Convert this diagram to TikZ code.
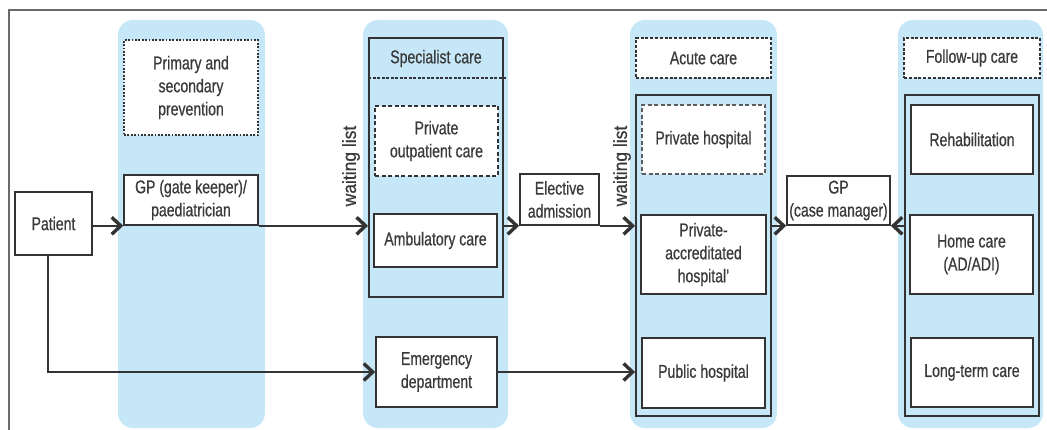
\documentclass[tikz,border=0pt]{standalone}
\usepackage{fontspec}
\setmainfont[FakeStretch=0.76,FakeBold=0.6]{Liberation Sans}
\newfontfamily\wfont[FakeStretch=0.92,FakeBold=0.8]{Liberation Sans}
\usetikzlibrary{arrows.meta}
\definecolor{colblue}{HTML}{C6E7F7}
\definecolor{boxc}{HTML}{333333}
\definecolor{txt}{HTML}{3A3A3A}
\definecolor{framec}{HTML}{6A6A6A}
\begin{document}
\begin{tikzpicture}[x=1pt,y=-1pt,
  lbl/.style={align=center, text=txt, inner sep=1pt, font=\fontsize{18.5}{23}\selectfont},
  box/.style={lbl, draw=boxc, line width=1.6pt, fill=white},
  dotbox/.style={box, dash pattern=on 1.8pt off 1.6pt},
  dashbox/.style={box, dash pattern=on 4pt off 2.5pt},
  outerbox/.style={draw=boxc, line width=1.9pt, inner sep=0pt},
  col/.style={fill=colblue, rounded corners=15pt},
  conn/.style={draw=boxc, line width=1.8pt},
  arr/.style={conn, -{Straight Barb[length=9pt,width=17pt,line width=3.4pt]}},
  wl/.style={text=txt, inner sep=0pt, rotate=90, font=\wfont\fontsize{19}{22}\selectfont}
]
\useasboundingbox (0,0) rectangle (1047,430);
% frame
\draw[framec, line width=2.2pt] (9,430) -- (9,10) -- (1047,10);
% blue columns
\fill[col] (118,20) rectangle (265,428);
\fill[col] (363,20) rectangle (508,428);
\fill[col] (630,20) rectangle (777,428);
\fill[col] (898,20) rectangle (1043,428);

% column 1
\node[dotbox, minimum width=134, minimum height=95] (prev) at (191,87.5) {Primary and\\secondary\\prevention};
\node[box, minimum width=134, minimum height=50] (gp1) at (191,200) {GP (gate keeper)/\\paediatrician};
\node[box, minimum width=77, minimum height=63] (patient) at (53.5,223.5) {Patient};

% column 2
\node[outerbox, minimum width=134, minimum height=259] (spec) at (436,167.5) {};
\node[lbl] (spechead) at (436,58.5) {Specialist care};
\coordinate (sl) at ([yshift=-41pt]spec.north west);
\coordinate (sr) at ([yshift=-41pt,xshift=2pt]spec.north east);
\draw[draw=boxc, line width=1.4pt, dash pattern=on 3pt off 1.5pt] (sl) -- (sr);
\node[dashbox, minimum width=123, minimum height=70] (privout) at (436.5,141) {Private\\outpatient care};
\node[box, minimum width=123, minimum height=53] (amb) at (435.5,240.5) {Ambulatory care};
\node[box, minimum width=121, minimum height=70] (emerg) at (436.5,372) {Emergency\\department};

\node[box, minimum width=79, minimum height=51] (elect) at (559.5,199.5) {Elective\\admission};

% column 3
\node[dashbox, dash pattern=on 3pt off 1.8pt, minimum width=135, minimum height=40] (acutehead) at (703.5,58) {Acute care};
\node[outerbox, minimum width=135, minimum height=321] (acute) at (703.5,255.5) {};
\node[dashbox, draw=boxc!80, minimum width=123, minimum height=69] (privhosp) at (703.5,139.5) {Private hospital};
\node[box, minimum width=125, minimum height=79] (accred) at (703.5,254.5) {Private-\\accreditated\\hospital'};
\node[box, minimum width=123, minimum height=70] (public) at (703.5,373) {Public hospital};

\node[box, minimum width=103, minimum height=49] (gp2) at (838.5,200.5) {GP\\(case manager)};

% column 4
\node[dashbox, dash pattern=on 3pt off 1.8pt, minimum width=136, minimum height=40] (followhead) at (972,58) {Follow-up care};
\node[outerbox, minimum width=134, minimum height=321] (follow) at (972,255.5) {};
\node[box, minimum width=122, minimum height=69] (rehab) at (972,139.5) {Rehabilitation};
\node[box, minimum width=123, minimum height=79] (home) at (971.5,254.5) {Home care\\(AD/ADI)};
\node[box, minimum width=122, minimum height=69] (longterm) at (972,372.5) {Long-term care};

% waiting lists
\node[wl] (wl1) at (351,166) {waiting list};
\node[wl] (wl2) at (622,166) {waiting list};

% connectors
\draw[arr] (patient.east |- gp1.south) -- (gp1.south west);
\draw[arr] (gp1.south east) -- (gp1.south east -| spec.west);
\draw[arr] (spec.east |- elect.south) -- (elect.south west);
\draw[arr] (elect.south east) -- (elect.south east -| acute.west);
\draw[arr] (acute.east |- gp2.south) -- (gp2.south west);
\draw[arr] (follow.west |- gp2.south) -- (gp2.south east);
\draw[arr] ([xshift=-5.5pt]patient.south) |- (emerg.west);
\draw[arr] (emerg.east) -- (emerg.east -| acute.west);
\end{tikzpicture}
\end{document}
